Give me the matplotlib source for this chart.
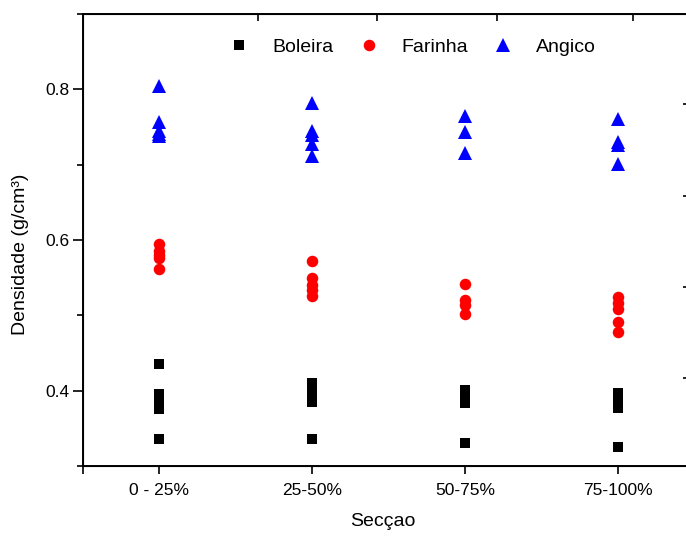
import matplotlib
matplotlib.use("Agg")
import matplotlib.pyplot as plt
from matplotlib.ticker import MultipleLocator, FixedLocator

plt.rcParams['font.family'] = ['Liberation Sans', 'DejaVu Sans']

categories = ["0 - 25%", "25-50%", "50-75%", "75-100%"]

boleira = [
    [0.435, 0.395, 0.387, 0.380, 0.375, 0.336],
    [0.410, 0.400, 0.392, 0.385, 0.336],
    [0.401, 0.392, 0.384, 0.330],
    [0.397, 0.388, 0.377, 0.325],
]
farinha = [
    [0.595, 0.586, 0.580, 0.576, 0.562],
    [0.572, 0.550, 0.540, 0.533, 0.525],
    [0.541, 0.521, 0.514, 0.502],
    [0.524, 0.516, 0.509, 0.491, 0.478],
]
angico = [
    [0.805, 0.757, 0.745, 0.741, 0.738],
    [0.782, 0.745, 0.740, 0.727, 0.712],
    [0.764, 0.744, 0.716],
    [0.760, 0.730, 0.726, 0.701],
]

series = [
    ("Boleira", boleira, "s", "black", 7.2),
    ("Farinha", farinha, "o", "red", 8.3),
    ("Angico", angico, "^", "blue", 9.5),
]

fig = plt.figure(figsize=(6.86, 5.36), dpi=100)
ax = fig.add_axes([0.121, 0.1306, 0.8907, 0.8433])

for name, data, mk, col, ms in series:
    xs, ys = [], []
    for i, vals in enumerate(data):
        xs += [i + 1] * len(vals)
        ys += vals
    ax.plot(xs, ys, linestyle="none", marker=mk, color=col, markersize=ms,
            markeredgewidth=0, label=name)

ax.set_xlim(0.5, 4.5)
ax.set_ylim(0.30, 0.90)
ax.set_xticks(range(1, len(categories) + 1))
ax.set_xticklabels(categories)
ax.xaxis.set_minor_locator(FixedLocator([0.5]))
ax.yaxis.set_minor_locator(MultipleLocator(0.1))
ax.set_yticks([0.4, 0.6, 0.8])
ax.set_yticklabels(["0.4", "0.6", "0.8"])

for s in ax.spines.values():
    s.set_linewidth(1.2)

ax.tick_params(axis="y", which="major", direction="out", length=7, width=1.2,
               labelsize=12.5, pad=3)
ax.tick_params(axis="y", which="minor", direction="out", length=4, width=1.2)
ax.tick_params(axis="x", which="major", direction="out", length=6, width=1.2,
               labelsize=12.5, pad=6)
ax.tick_params(axis="x", which="minor", direction="out", length=6, width=1.2)

ax.set_xlabel("Secçao", fontsize=14)
ax.xaxis.set_label_coords(0.491, -0.105)
ax.set_ylabel("Densidade (g/cm³)", fontsize=14)
ax.yaxis.set_label_coords(-0.103, 0.469)
ax.yaxis.label.set_verticalalignment("center")

# secondary right axis ticks (no labels)
axr = ax.twinx()
axr.set_ylim(ax.get_ylim())
axr.set_yticks([0.78, 0.659, 0.537, 0.417])
axr.tick_params(axis="y", direction="in", length=8, width=1.2, labelright=False)
for s in axr.spines.values():
    s.set_linewidth(1.2)

# top axis ticks
axt = ax.twiny()
axt.set_xlim(ax.get_xlim())
axt.set_xticks([1.646, 2.425, 3.21, 4.10])
axt.tick_params(axis="x", direction="in", length=5, width=1.2, labeltop=False)

leg = ax.legend(loc="upper center", bbox_to_anchor=(0.54, 0.985), ncol=3,
                frameon=False, fontsize=14, handletextpad=1.2, columnspacing=1.3,
                handlelength=1.0)

fig.savefig("out.png", dpi=100)
